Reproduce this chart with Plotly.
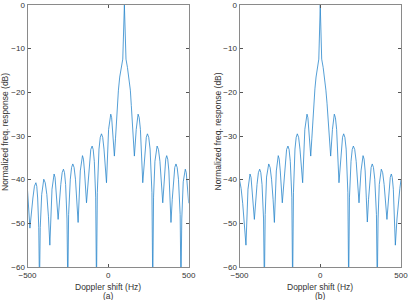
import plotly.graph_objects as go
from plotly.subplots import make_subplots

# (a) filter centred at +100 Hz
freq_a = [-500, -493, -485, -466.5, -457, -448, -442.5, -437, -430, -425.6,
          -421, -412, -405.5, -399, -390, -380, -370, -361.5,
          -348, -341.5, -335, -329, -322.5, -310,
          -293.5, -285, -277, -270.5, -263.5, -255, -250,
          -245, -234.5, -226.5, -219, -211, -202.5, -194, -186,
          -172.5, -165.5, -159, -153, -146.5, -134,
          -116.5, -107.5, -99, -92.5, -85.5, -77, -72,
          -67, -56.5, -48.5, -41, -33.5, -25.5, -10,
          3, 10, 16.5, 22, 28, 39,
          46, 52, 58, 64, 72, 81, 91, 101, 111, 120, 129, 138, 144, 150, 156, 163,
          174.5, 180.5, 186, 193, 200.5, 215,
          229.5, 237, 244, 252, 260.5, 272, 277,
          282, 290.5, 297.5, 304, 312.5, 321.5, 339,
          351, 357.5, 363.5, 370, 377, 383, 390,
          398, 405.5, 413.5, 421, 428.5, 436.5, 447, 452,
          457, 466, 472.5, 479, 485, 490, 495, 500]
resp_a = [-42.4, -46, -51.1, -44.2, -41.5, -40.7, -41.5, -44.2, -51, -65,
          -51, -43.4, -40.7, -39.9, -40.7, -43.4, -48.5, -55,
          -42.2, -39.5, -38.7, -39.5, -42.2, -49.1,
          -41.1, -38.4, -37.6, -38.4, -41.1, -49, -65,
          -48, -39.9, -37.2, -36.4, -37.2, -39.9, -44.5, -49.8,
          -38, -35.3, -34.5, -35.3, -38, -45.3,
          -35.8, -33.1, -32.3, -33.1, -35.8, -44, -65,
          -43, -33, -30.3, -29.5, -30.3, -33, -40.7,
          -28.5, -25.8, -25.0, -25.8, -28.5, -34.6,
          -30.5, -26.5, -23, -19.5, -16.5, -14.3, -12.4, 0, -12.4, -14.3, -16.5, -19.5, -23, -26.5, -30.5, -34.6,
          -28.5, -25.8, -25.0, -25.8, -28.5, -40.7,
          -33, -30.3, -29.5, -30.3, -33, -43, -65,
          -44, -35.8, -33.1, -32.3, -33.1, -35.8, -45.3,
          -38, -35.3, -34.5, -35.3, -38, -43.5, -49.8,
          -44.5, -39.9, -37.2, -36.4, -37.2, -39.9, -48, -65,
          -49, -40.5, -38.4, -37.6, -38.4, -40.5, -43, -45.4]

# (b) filter centred at 0 Hz
freq_b = [-500, -490, -480, -470, -460,
          -447.5, -441, -435, -428.5, -421.5, -408,
          -391.5, -383, -375, -368, -360.5, -351, -346,
          -341, -332.5, -325.5, -319, -310.5, -301.5, -292, -284,
          -272, -266, -260, -254, -247.5, -235,
          -217.5, -208.5, -200, -193, -185.5, -176, -171,
          -166, -156.5, -149, -142, -134, -125.5, -109,
          -95.5, -88.5, -82, -76.5, -70.5, -59,
          -52, -46, -40, -33, -26, -18, -9, 0, 9, 18, 27, 35, 42, 49, 56, 64.5,
          75.5, 81.5, 87, 94, 101.5, 116,
          130.5, 138, 145, 152.5, 160.5, 171, 176,
          181, 190.5, 198, 205, 213.5, 222.5, 240,
          252.5, 259, 265, 271.5, 278, 285, 291.5,
          299, 307, 315, 322, 329.5, 337.5, 348, 353,
          358, 365.5, 372, 378, 386.5, 395.5, 413,
          426.5, 433.5, 440, 446, 452.5, 465,
          475, 485, 493, 500]
resp_b = [-40, -42, -45.5, -50, -55,
          -42.2, -39.5, -38.7, -39.5, -42.2, -49.1,
          -41.1, -38.4, -37.6, -38.4, -41.1, -49, -65,
          -48, -39.4, -37.2, -36.4, -37.2, -39.9, -44.5, -49.8,
          -38, -35.3, -34.5, -35.3, -38, -45.3,
          -35.8, -33.1, -32.3, -33.1, -35.8, -44, -65,
          -43, -33, -30.3, -29.5, -30.3, -33, -40.7,
          -28.5, -25.8, -25.0, -25.8, -28.5, -34.6,
          -30.5, -26.5, -22.5, -19.2, -16.5, -14.3, -12.4, 0, -12.4, -14.3, -16.5, -19.5, -22.5, -26.5, -30.5, -34.6,
          -28.5, -25.8, -25.0, -25.8, -28.5, -40.7,
          -33, -30.3, -29.5, -30.3, -33, -43, -65,
          -44, -35.8, -33.1, -32.3, -33.1, -35.8, -45.3,
          -38, -35.3, -34.5, -35.3, -38, -44, -49.7,
          -44.5, -39.9, -37.2, -36.4, -37.2, -39.9, -48, -65,
          -49, -41.1, -38.4, -37.6, -38.4, -41.1, -49.1,
          -42.2, -39.5, -38.7, -39.5, -42.2, -55,
          -49, -44.5, -42, -40]

x_ticks = [-500, 0, 500]
y_ticks = [0, -10, -20, -30, -40, -50, -60]
x_title = "Doppler shift (Hz)"
y_title = "Normalized freq. response (dB)"
panel_labels = ["(a)", "(b)"]

W, H = 409, 300
fig = make_subplots(rows=1, cols=2)
line_style = dict(color="#2a86cc", width=0.8)
fig.add_trace(go.Scatter(x=freq_a, y=resp_a, mode="lines", line=line_style,
                         showlegend=False, hoverinfo="skip"), row=1, col=1)
fig.add_trace(go.Scatter(x=freq_b, y=resp_b, mode="lines", line=line_style,
                         showlegend=False, hoverinfo="skip"), row=1, col=2)

axis_common = dict(showline=True, linecolor="#8a8a8a", linewidth=1, mirror="ticks",
                   ticks="inside", ticklen=3, tickcolor="#555555", showgrid=False,
                   zeroline=False, automargin=False,
                   tickfont=dict(family="Liberation Sans, Arial", size=8, color="#333333"))
dom_a = [27.5 / W, 188.7 / W]
dom_b = [239.5 / W, 401 / W]
fig.update_xaxes(range=[-500, 500], tickvals=x_ticks, **axis_common)
fig.update_yaxes(range=[-60, 0], tickvals=y_ticks, domain=[0, 1], **axis_common)
fig.update_layout(xaxis=dict(domain=dom_a), xaxis2=dict(domain=dom_b))

ann = []
lab_font = dict(family="Liberation Sans, Arial", size=8.5, color="#333333")
for cx, ylx, lab in [(108, 5, panel_labels[0]), (320.25, 217.5, panel_labels[1])]:
    ann.append(dict(x=cx / W, y=(267 - 286.5) / 262, xref="paper", yref="paper",
                    text=x_title, showarrow=False, font=lab_font,
                    xanchor="center", yanchor="middle"))
    ann.append(dict(x=cx / W, y=(267 - 296) / 262, xref="paper", yref="paper",
                    text=lab, showarrow=False, font=lab_font,
                    xanchor="center", yanchor="middle"))
    ann.append(dict(x=ylx / W, y=(267 - 132) / 262, xref="paper", yref="paper",
                    text=y_title, showarrow=False, font=lab_font, textangle=-90,
                    xanchor="center", yanchor="middle"))

fig.update_layout(width=W, height=H,
                  margin=dict(l=0, r=0, t=5, b=33, pad=0, autoexpand=False),
                  paper_bgcolor="white", plot_bgcolor="white", annotations=ann)
fig.write_html("out.html", config={"displayModeBar": False},
               post_script="document.body.style.margin='0';document.body.style.padding='0';"
                           "document.body.style.overflow='hidden';")
